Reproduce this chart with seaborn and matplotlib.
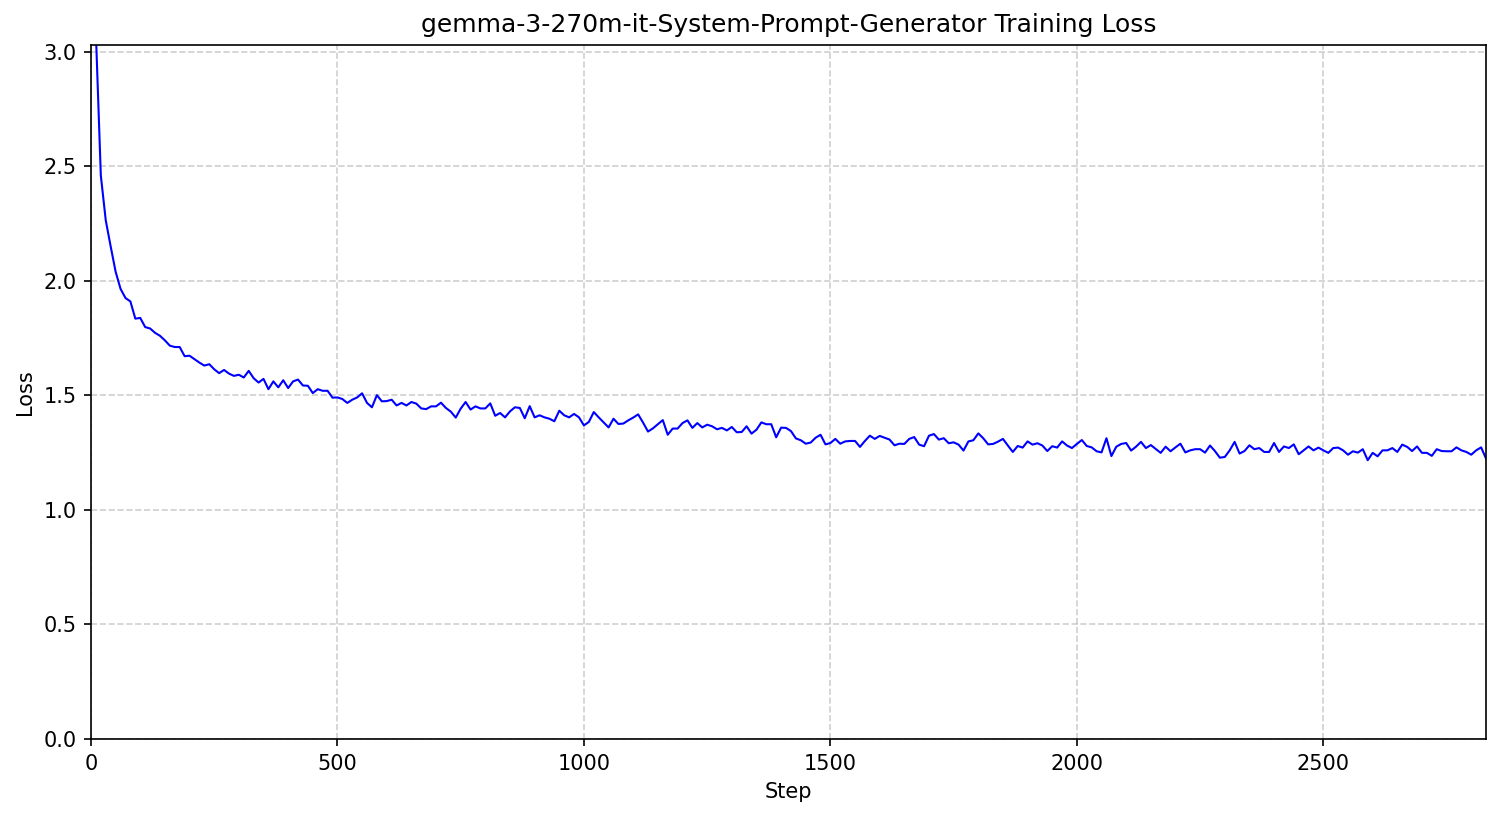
import matplotlib
matplotlib.use("Agg")
import matplotlib.pyplot as plt
import seaborn as sns

# logged every 10 steps
steps = list(range(10, 2831, 10))

loss = [
    3.08, 2.46, 2.264, 2.15, 2.04, 1.965, 1.925, 1.91, 1.835, 1.838,
    1.798, 1.792, 1.773, 1.76, 1.74, 1.717, 1.711, 1.711, 1.671, 1.673,
    1.658, 1.643, 1.63, 1.636, 1.614, 1.597, 1.611, 1.595, 1.585, 1.59,
    1.578, 1.607, 1.575, 1.556, 1.572, 1.527, 1.561, 1.535, 1.566, 1.532,
    1.561, 1.569, 1.543, 1.542, 1.51, 1.527, 1.52, 1.52, 1.49, 1.491,
    1.484, 1.467, 1.481, 1.491, 1.509, 1.467, 1.448, 1.501, 1.474, 1.475,
    1.481, 1.456, 1.467, 1.456, 1.471, 1.464, 1.443, 1.44, 1.452, 1.452,
    1.468, 1.445, 1.429, 1.403, 1.442, 1.471, 1.438, 1.452, 1.443, 1.443,
    1.465, 1.411, 1.423, 1.404, 1.43, 1.448, 1.445, 1.4, 1.453, 1.404,
    1.413, 1.404, 1.398, 1.387, 1.433, 1.413, 1.404, 1.419, 1.404, 1.369,
    1.384, 1.427, 1.404, 1.382, 1.36, 1.398, 1.375, 1.377, 1.391, 1.403,
    1.417, 1.381, 1.342, 1.356, 1.374, 1.392, 1.328, 1.355, 1.355, 1.379,
    1.391, 1.358, 1.379, 1.36, 1.372, 1.365, 1.352, 1.358, 1.347, 1.362,
    1.339, 1.34, 1.365, 1.333, 1.35, 1.382, 1.374, 1.374, 1.317, 1.359,
    1.358, 1.344, 1.312, 1.304, 1.289, 1.294, 1.315, 1.328, 1.286, 1.292,
    1.31, 1.289, 1.299, 1.301, 1.301, 1.275, 1.301, 1.324, 1.31, 1.323,
    1.315, 1.307, 1.282, 1.289, 1.288, 1.31, 1.318, 1.285, 1.278, 1.324,
    1.331, 1.307, 1.313, 1.291, 1.295, 1.285, 1.259, 1.299, 1.304, 1.334,
    1.313, 1.286, 1.288, 1.298, 1.31, 1.281, 1.253, 1.279, 1.272, 1.299,
    1.285, 1.291, 1.281, 1.257, 1.278, 1.272, 1.299, 1.281, 1.27, 1.288,
    1.305, 1.279, 1.273, 1.256, 1.251, 1.313, 1.235, 1.276, 1.288, 1.292,
    1.259, 1.276, 1.297, 1.27, 1.283, 1.266, 1.249, 1.276, 1.256, 1.273,
    1.289, 1.251, 1.26, 1.265, 1.265, 1.25, 1.281, 1.257, 1.228, 1.231,
    1.26, 1.297, 1.246, 1.257, 1.282, 1.265, 1.27, 1.253, 1.253, 1.292,
    1.253, 1.277, 1.27, 1.286, 1.243, 1.26, 1.277, 1.26, 1.272, 1.26,
    1.249, 1.27, 1.272, 1.26, 1.241, 1.256, 1.25, 1.265, 1.217, 1.249,
    1.234, 1.26, 1.26, 1.27, 1.253, 1.285, 1.275, 1.257, 1.277, 1.249,
    1.249, 1.236, 1.265, 1.257, 1.256, 1.256, 1.273, 1.26, 1.253, 1.241,
    1.26, 1.273, 1.224,
]

title = "gemma-3-270m-it-System-Prompt-Generator Training Loss"

fig, ax = plt.subplots(figsize=(10.007, 5.447), dpi=150)

sns.lineplot(x=steps, y=loss, color="blue", linewidth=1, ax=ax)

ax.set_title(title, fontsize=12)
ax.set_xlabel("Step")
ax.set_ylabel("Loss")
ax.set_xlim(0, 2830)
ax.set_ylim(0, 3.03)
ax.grid(True, linestyle="--", alpha=0.6)

fig.subplots_adjust(left=0.0606, right=0.990, top=0.945, bottom=0.0955)
fig.savefig("out.png", dpi=150)
